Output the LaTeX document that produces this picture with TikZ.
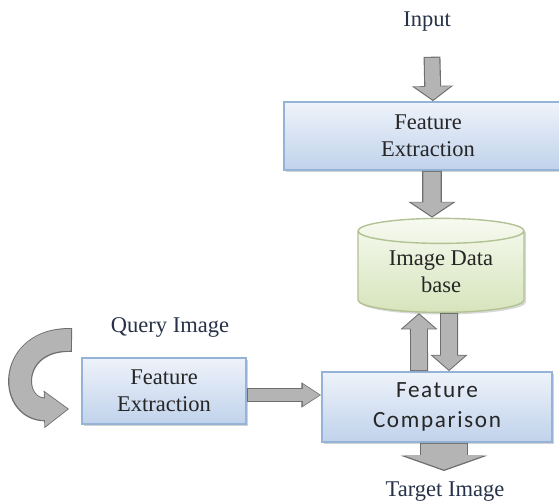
\documentclass[tikz,border=0pt]{standalone}
\usepackage{fontspec}
\setmainfont{Liberation Serif}
\newfontfamily\cmpfont[LetterSpace=7]{Carlito}
\usetikzlibrary{arrows.meta, shapes.geometric, shadows}
\definecolor{labelblue}{RGB}{38,50,72}
\definecolor{boxedge}{RGB}{149,179,215}
\definecolor{boxlight}{RGB}{238,243,250}
\definecolor{boxdark}{RGB}{192,210,235}
\definecolor{dbedge}{RGB}{178,194,148}
\definecolor{dblight}{RGB}{247,250,240}
\definecolor{dbdark}{RGB}{214,228,188}
\definecolor{arrowedge}{RGB}{110,110,110}
\definecolor{arrowfill}{RGB}{180,180,180}

\tikzset{
  featbox/.style={draw=boxedge, line width=1.2pt, top color=boxlight, bottom color=boxdark,
    drop shadow={shadow xshift=1.5pt, shadow yshift=-1.5pt, opacity=0.35},
    align=center, inner sep=0pt, font=\fontsize{16}{19}\selectfont, text=black!85},
  lbl/.style={font=\fontsize{16}{19}\selectfont, text=labelblue},
  fatarrow/.style n args={4}{line width=#1, draw=arrowedge, -{Triangle[width=0pt #3, length=0pt #4]},
    postaction={draw=arrowfill, line width=#2, -{Triangle[width=0pt #3, length=0pt #4]},
      shorten >=1pt, shorten <=0.8pt}},
}

\begin{document}
\begin{tikzpicture}[x=0.025cm, y=-0.025cm]
\useasboundingbox (0,0) rectangle (559,504);

% right column
\node[lbl] (inp) at (427,22) {Input};
\node[featbox, minimum width=7.2cm, minimum height=1.7cm] (fe1) at (428,136) {Feature\\Extraction};
\node[cylinder, shape border rotate=90, aspect=0.24, draw=dbedge, line width=1pt,
  top color=dblight, bottom color=dbdark, minimum width=4.15cm, minimum height=2.35cm, inner sep=0pt,
  drop shadow={shadow xshift=1.5pt, shadow yshift=-1.5pt, opacity=0.3},
  align=center, font=\fontsize{16}{19}\selectfont, text=black!85] (db) at (441,272) {Image Data\\base};
\node[featbox, minimum width=5.75cm, minimum height=1.75cm, font=\cmpfont\fontsize{16.5}{21}\selectfont] (cmp) at (437,407) {Feature\\Comparison};
\node[lbl] (tgt) at (445,492) {Target Image};

% left column
\node[lbl] (qry) at (170,327) {Query Image};
\node[featbox, minimum width=4.1cm, minimum height=1.65cm] (fe2) at (164,391) {Feature\\Extraction};
\coordinate (qstart) at (72,340);
\coordinate (tgtend) at (444,471);

\draw[fatarrow={12pt}{10.4pt}{2.4}{0.9}] ([xshift=0.125cm,yshift=-0.5cm]inp.south) -- ([xshift=0.125cm]fe1.north);
\draw[fatarrow={14pt}{12.4pt}{2.35}{0.8}] ([xshift=0.1cm]fe1.south) -- ([xshift=-0.225cm]db.north);
\draw[fatarrow={12.8pt}{11.2pt}{2}{0.9}] ([xshift=-0.45cm]cmp.north) -- ([xshift=-0.55cm]db.south);
\draw[fatarrow={12.8pt}{11.2pt}{2}{0.9}] ([xshift=0.2cm]db.south) -- ([xshift=0.3cm]cmp.north);
\draw[fatarrow={10pt}{8.6pt}{1.7}{1.4}] ([yshift=-0.1cm]fe2.east) -- ([yshift=-0.1cm]fe2.east -| cmp.west);
\draw[fatarrow={34pt}{32.4pt}{1.8}{0.32}] ([xshift=0.175cm]cmp.south) -- (tgtend);
\draw[fatarrow={17pt}{15.4pt}{1.5}{1.05}] (qstart) .. controls (8,338) and (8,410) .. ([xshift=-0.3cm,yshift=-0.45cm]fe2.west);
\end{tikzpicture}
\end{document}
